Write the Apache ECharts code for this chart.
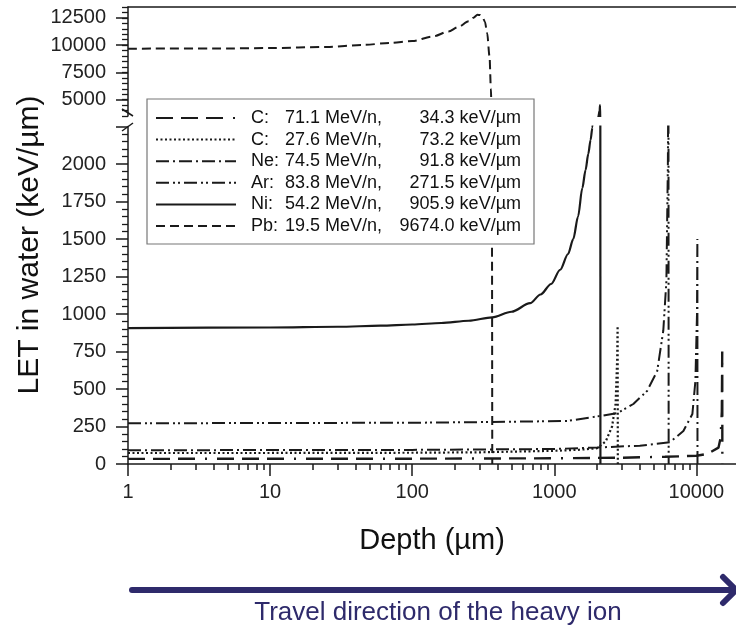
<!DOCTYPE html>
<html>
<head>
<meta charset="utf-8">
<title>LET in water vs depth</title>
<script src="https://cdn.jsdelivr.net/npm/echarts@6/dist/echarts.min.js"></script>
<style>
  html, body { margin: 0; padding: 0; background: #fff; }
  #main { width: 736px; height: 631px; }
</style>
</head>
<body>
<div id="main"></div>
<script>
// depth (µm) / LET (keV/µm)
const depthC1 = [1, 100, 1000, 3000, 6000, 10000, 12000, 14300, 14800, 15100, 15200, 15230];
const letC1   = [34.3, 35.5, 38, 42, 48, 55, 68, 109, 175, 350, 750, 0];

const depthC2 = [1, 10, 100, 300, 1000, 1500, 2000, 2300, 2550, 2700, 2770, 2790, 2800];
const letC2   = [73.2, 73.5, 75, 78, 88, 95, 105, 150, 250, 400, 700, 920, 0];

const depthNe = [1, 100, 1000, 2000, 4000, 6500, 8100, 9370, 9840, 10100, 10160, 10180];
const letNe   = [91.8, 94, 100, 110, 122, 145, 220, 333, 553, 1000, 1500, 0];

const depthAr = [1, 100, 366, 1240, 2100, 2800, 3600, 4500, 5300, 5850, 6150, 6300, 6360, 6380];
const letAr   = [271.5, 275, 280, 287, 320, 340, 400, 487, 620, 890, 1220, 2000, 2700, 0];

const depthNi = [1, 10, 30, 60, 100, 160, 250, 366, 500, 676, 800, 950, 1100, 1250, 1360, 1470, 1575, 1660, 1735, 1800, 1852, 1950, 2040, 2085, 2100, 2108, 2112];
const letNi   = [905.9, 910, 915, 922, 930, 940, 955, 978, 1015, 1072, 1130, 1200, 1295, 1400, 1500, 1650, 1840, 1960, 2067, 2160, 2240, 2600, 3400, 4000, 4500, 2500, 0];

const depthPb = [1, 5, 10, 25, 45, 70, 100, 140, 180, 210, 250, 270, 288, 300, 312, 325, 337, 350, 358, 363, 366];
const letPb   = [9674, 9700, 9730, 9840, 10020, 10200, 10380, 10800, 11250, 11650, 12200, 12520, 12780, 12760, 12600, 12150, 11100, 9000, 6000, 2500, 0];

const ionNames = ['C:', 'C:', 'Ne:', 'Ar:', 'Ni:', 'Pb:'];
const energies = ['71.1 MeV/n,', '27.6 MeV/n,', '74.5 MeV/n,', '83.8 MeV/n,', '54.2 MeV/n,', '19.5 MeV/n,'];
const letLabels = ['34.3 keV/µm', '73.2 keV/µm', '91.8 keV/µm', '271.5 keV/µm', '905.9 keV/µm', '9674.0 keV/µm'];

const xTicks = [1, 10, 100, 1000, 10000];
const yTicksHigh = [5000, 7500, 10000, 12500];
const yLabelTopLow = 2000; // highest labelled value on the lower axis

// minor ticks on the log axis
const xMinor = [];
for (let d = 1; d <= 10000; d *= 10) {
  for (let k = 2; k <= 9; k++) xMinor.push(k * d);
}

const FONT = '"Liberation Sans", Arial, sans-serif';
const INK = '#1a1a1a';
const NAVY = '#2e2a6b';

const curves = [
  { key: 'c1', x: depthC1, y: letC1, type: [17, 8, 17, 8, 17, 10, 2, 10], width: 2.4, both: false, smooth: false },
  { key: 'c2', x: depthC2, y: letC2, type: [2, 2.5], width: 2.2, both: false, smooth: false },
  { key: 'ne', x: depthNe, y: letNe, type: [13, 4, 2, 4], width: 2, both: false, smooth: false },
  { key: 'ar', x: depthAr, y: letAr, type: [13, 4, 2, 3, 2, 4], width: 2, both: false, smooth: false },
  { key: 'ni', x: depthNi, y: letNi, type: 'solid', width: 2.2, both: true, smooth: 0.3 },
  { key: 'pb', x: depthPb, y: letPb, type: [9, 5], width: 2, both: true, smooth: 0.3 }
];

const zip = (xs, ys) => xs.map((v, i) => [v, ys[i]]);

let series = [];
curves.forEach(c => {
  const base = {
    name: c.key,
    type: 'line',
    symbol: 'none',
    clip: true,
    smooth: c.smooth,
    smoothMonotone: 'x',
    lineStyle: { color: INK, width: c.width, type: c.type },
    itemStyle: { color: INK },
    data: zip(c.x, c.y)
  };
  series.push(Object.assign({}, base, { xAxisIndex: 1, yAxisIndex: 1 }));
  if (c.both) {
    series.push(Object.assign({}, base, { xAxisIndex: 0, yAxisIndex: 0 }));
  }
});

const plain = v => String(v);
const labelStyle = { color: '#222', fontSize: 20, fontFamily: FONT, formatter: plain };
const axisLine = { show: true, lineStyle: { color: INK, width: 1.5 } };
const hidden = { show: false };

const upperRect = { left: 128, right: 0, top: 7, height: 109 };
const lowerRect = { left: 128, right: 0, top: 126.5, height: 337.5 };

let option = {
  animation: false,
  backgroundColor: '#fff',
  // grid 2 sits on top of grid 0 and only carries its minor y ticks
  grid: [upperRect, lowerRect, Object.assign({}, upperRect)],
  xAxis: [
    {
      gridIndex: 0, type: 'log', min: 1, max: 19000, position: 'top',
      axisLine: axisLine, axisTick: hidden, axisLabel: hidden, splitLine: hidden
    },
    {
      gridIndex: 1, type: 'log', min: 1, max: 19000, position: 'bottom',
      axisLine: axisLine,
      axisTick: { show: true, length: 12, customValues: xTicks, lineStyle: { color: INK, width: 1.5 } },
      axisLabel: Object.assign({ customValues: xTicks, margin: 18 }, labelStyle),
      splitLine: hidden,
      name: 'Depth (µm)', nameLocation: 'middle', nameGap: 62,
      nameTextStyle: { fontSize: 29, color: '#111', fontFamily: FONT }
    },
    {
      gridIndex: 1, type: 'log', min: 1, max: 19000, position: 'bottom', offset: 0,
      axisLine: hidden,
      axisTick: { show: true, length: 6, customValues: xMinor, lineStyle: { color: INK, width: 1.5 } },
      axisLabel: hidden, splitLine: hidden
    },
    { gridIndex: 2, type: 'value', min: 0, max: 1, show: false }
  ],
  yAxis: [
    {
      gridIndex: 0, type: 'value', min: 3500, max: 13500, position: 'left',
      axisLine: axisLine,
      axisTick: { show: true, length: 12, customValues: yTicksHigh, lineStyle: { color: INK, width: 1.5 } },
      axisLabel: Object.assign({ customValues: yTicksHigh, margin: 22 }, labelStyle),
      splitLine: hidden
    },
    {
      gridIndex: 1, type: 'value', min: 0, max: 2250, interval: 250, position: 'left',
      axisLine: axisLine,
      axisTick: { show: true, length: 12, lineStyle: { color: INK, width: 1.5 } },
      minorTick: { show: true, splitNumber: 5, length: 6, lineStyle: { color: INK, width: 1.3 } },
      axisLabel: Object.assign({}, labelStyle, {
        margin: 22,
        formatter: v => (v > yLabelTopLow ? '' : String(v))
      }),
      splitLine: hidden
    },
    {
      gridIndex: 2, type: 'value', min: 3500, max: 13500, interval: 500, position: 'left',
      axisLine: hidden,
      axisTick: { show: true, length: 6, lineStyle: { color: INK, width: 1.3 } },
      axisLabel: hidden, splitLine: hidden
    }
  ],
  legend: {
    data: curves.map(c => c.key),
    orient: 'vertical',
    left: 147, top: 99,
    padding: [10, 13, 9, 8],
    itemGap: 3.6,
    itemWidth: 80, itemHeight: 14,
    backgroundColor: '#fff',
    borderColor: '#777', borderWidth: 1.2,
    selectedMode: false,
    itemStyle: { opacity: 0 },
    formatter: function (name) {
      const i = curves.findIndex(c => c.key === name);
      return '{s| }{a|' + ionNames[i] + '}{b|' + energies[i] + '}{c|' + letLabels[i] + '}';
    },
    textStyle: {
      color: '#111', fontSize: 18, fontFamily: FONT,
      rich: {
        s: { width: 10, fontSize: 18, fontFamily: FONT },
        a: { width: 34, fontSize: 18, fontFamily: FONT, color: '#111' },
        b: { width: 104, fontSize: 18, fontFamily: FONT, color: '#111' },
        c: { width: 132, align: 'right', fontSize: 18, fontFamily: FONT, color: '#111' }
      }
    }
  },
  graphic: [
    {
      type: 'text', x: 30, y: 245, rotation: Math.PI / 2,
      style: { text: 'LET in water (keV/µm)', x: 0, y: 0, align: 'center', verticalAlign: 'middle',
               font: '30px ' + FONT, fill: '#111' }
    },
    // axis break marks
    { type: 'line', shape: { x1: 122, y1: 109, x2: 133, y2: 116 }, style: { stroke: INK, lineWidth: 1.5 } },
    { type: 'line', shape: { x1: 122, y1: 131, x2: 133, y2: 123 }, style: { stroke: INK, lineWidth: 1.5 } },
    // travel direction arrow
    { type: 'line', shape: { x1: 132, y1: 590, x2: 733, y2: 590 },
      style: { stroke: NAVY, lineWidth: 6, lineCap: 'round' } },
    { type: 'polyline', shape: { points: [[723, 577], [736, 590], [723, 603]] },
      style: { stroke: NAVY, lineWidth: 6, lineCap: 'round', lineJoin: 'round', fill: null } },
    {
      type: 'text', x: 438, y: 613,
      style: { text: 'Travel direction of the heavy ion', x: 0, y: 0, align: 'center', verticalAlign: 'middle',
               font: '26px ' + FONT, fill: NAVY }
    }
  ],
  series: series
};

let mychart = echarts.init(document.getElementById('main'));
mychart.setOption(option);
</script>
</body>
</html>
